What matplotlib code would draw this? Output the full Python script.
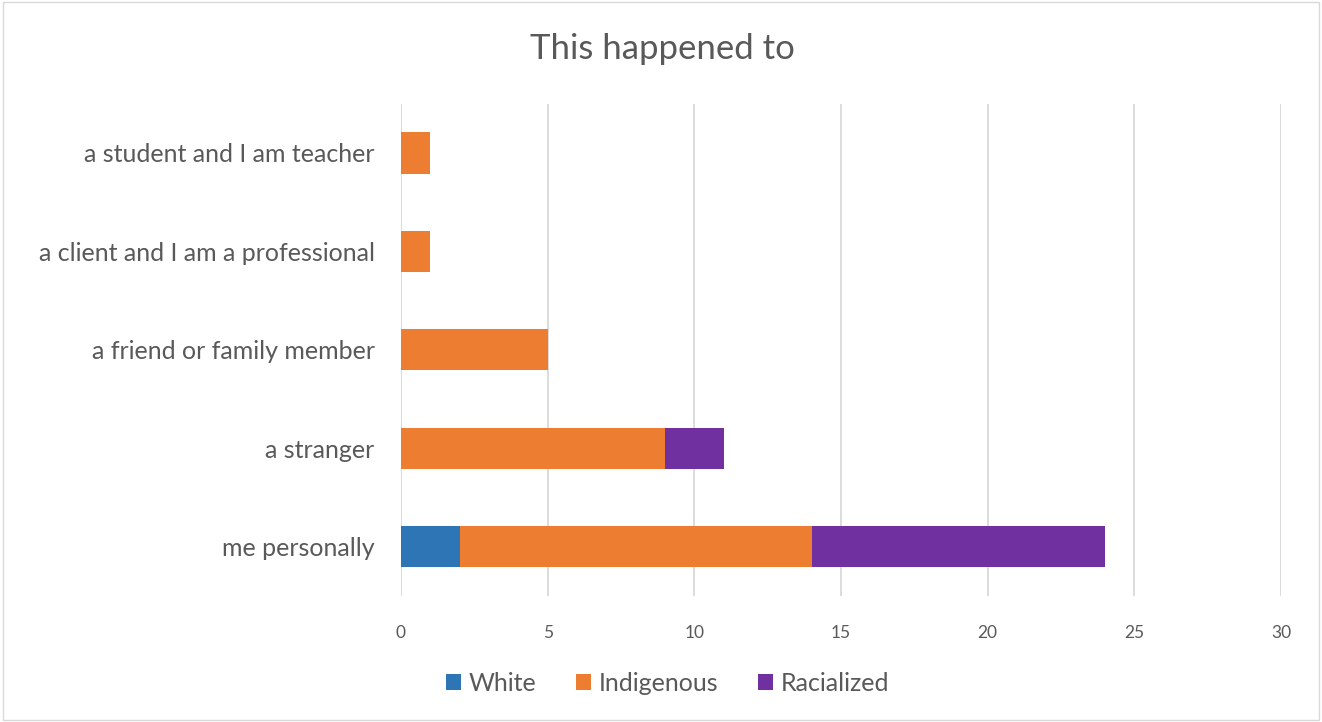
import matplotlib
matplotlib.use("Agg")
import matplotlib.pyplot as plt
from matplotlib.patches import Rectangle

categories = ["me personally", "a stranger", "a friend or family member",
              "a client and I am a professional", "a student and I am teacher"]
white = [2, 0, 0, 0, 0]
indigenous = [12, 9, 5, 1, 1]
racialized = [10, 2, 0, 0, 0]

series_names = ["White", "Indigenous", "Racialized"]
colors = ["#2e75b6", "#ed7d31", "#7030a0"]
xticks = [0, 5, 10, 15, 20, 25, 30]

plt.rcParams["font.family"] = ["Lato", "DejaVu Sans"]
text_color = "#595959"

fig = plt.figure(figsize=(13.22, 7.22), dpi=100)
ax = fig.add_axes([0.3033, 0.1745, 0.6657, 0.682])

left = [0] * len(categories)
for name, vals, col in zip(series_names, [white, indigenous, racialized], colors):
    ax.barh(range(len(categories)), vals, left=left, height=0.42,
            color=col, label=name, zorder=3)
    left = [a + b for a, b in zip(left, vals)]

ax.set_xlim(0, 30)
ax.set_ylim(-0.5, len(categories) - 0.5)
ax.set_xticks(xticks)
ax.set_xticklabels([str(t) for t in xticks], fontsize=12.5, color=text_color)
ax.set_yticks(range(len(categories)))
ax.set_yticklabels(categories, fontsize=18, color=text_color)
ax.tick_params(axis="both", length=0)
ax.tick_params(axis="x", pad=21)
ax.tick_params(axis="y", pad=19)
ax.grid(axis="x", color="#d9d9d9", linewidth=1.3, zorder=0)
for s in ax.spines.values():
    s.set_visible(False)

fig.text(0.501, 0.932, "This happened to", ha="center", va="center",
         fontsize=25, color=text_color)

leg = fig.legend(loc="center", bbox_to_anchor=(0.505, 0.054), ncol=3, frameon=False,
                 fontsize=18, handlelength=0.6, handleheight=0.6,
                 handletextpad=0.3, columnspacing=1.6)
for t in leg.get_texts():
    t.set_color(text_color)

fig.patches.append(Rectangle((0.002, 0.003), 0.996, 0.994, transform=fig.transFigure,
                             fill=False, edgecolor="#d9d9d9", linewidth=1))

fig.savefig("out.png", dpi=100)
